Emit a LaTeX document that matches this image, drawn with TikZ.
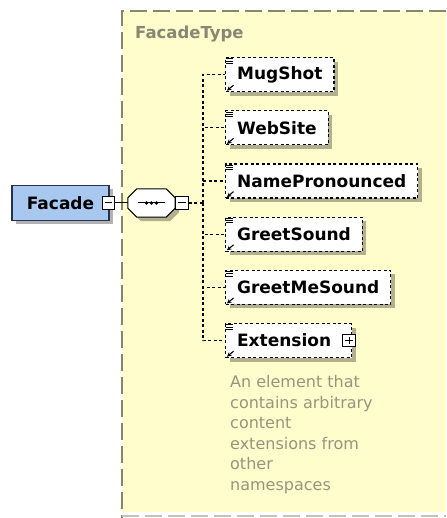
\documentclass[tikz,border=0pt]{standalone}
\usepackage{fontspec}
\setsansfont{DejaVu Sans}
\usepackage{xcolor}
\usepackage{tikz}
\usetikzlibrary{positioning}
\usetikzlibrary{shadows}
\usetikzlibrary{arrows.meta}

\definecolor{typebg}{RGB}{255,253,204}
\definecolor{typeline}{RGB}{135,135,112}
\definecolor{typetext}{RGB}{135,135,115}
\definecolor{desctext}{RGB}{150,150,128}
\definecolor{elemblue}{RGB}{168,200,240}
\definecolor{elemline}{RGB}{40,50,80}

\tikzset{
  boxfont/.style={font=\sffamily\bfseries\fontsize{17pt}{20pt}\selectfont},
  softshadow/.style={drop shadow={shadow xshift=4pt, shadow yshift=-4pt, fill=black, opacity=.3}},
  elem/.style={draw=elemline, line width=1.2pt, fill=elemblue, minimum width=97pt, minimum height=35pt, boxfont, softshadow},
  refbox/.style={draw, line width=1.2pt, dash pattern=on 3pt off 2.5pt, fill=white, inner xsep=11.5pt, minimum height=34pt, boxfont, softshadow},
  togglebox/.style={draw, fill=white, line width=1pt, minimum size=12.5pt, inner sep=0pt},
  conn/.style={line width=1.2pt, dash pattern=on 3pt off 2.5pt},
  typeborder/.style={draw=typeline, line width=1.2pt, dash pattern=on 17pt off 6pt},
}

\begin{document}
\begin{tikzpicture}[x=1pt, y=-1pt]
\useasboundingbox (0,0) rectangle (446,518);

% complex type area
\fill [typebg] (122,11) rectangle (446,512);
\draw [typeborder] (446,11) -- (122,11) -- (122,518);
\draw [typeborder, draw=typeline!50] (122,516) -- (446,516);
\node (typename) [anchor=base west, inner sep=0pt, text=typetext, font=\sffamily\bfseries\fontsize{16.5pt}{20pt}\selectfont] at (135,39) {FacadeType};

% element
\node (facade) [elem] at (60.5,203) {Facade};
\node (fminus) [togglebox] at (108.5,203) {};
\draw [line width=1pt] ([xshift=3pt]fminus.west) -- ([xshift=-3pt]fminus.east);

% sequence
\node (seq) [minimum width=47pt, minimum height=28pt, inner sep=0pt] at (151.5,203) {};
\draw [draw, fill=white, line width=1pt, softshadow] ([xshift=9pt]seq.north west) -- ([xshift=-9pt]seq.north east) -- ([yshift=-9pt]seq.north east) -- ([yshift=9pt]seq.south east) -- ([xshift=-9pt]seq.south east) -- ([xshift=9pt]seq.south west) -- ([yshift=9pt]seq.south west) -- ([yshift=-9pt]seq.north west) -- cycle;
\draw [line width=1pt] ([xshift=10pt]seq.west) -- ([xshift=-10pt]seq.east);
\foreach \dx in {-5,0,5} {
  \fill ([xshift=\dx pt]seq.center) circle (1.9pt);
}
\node (sminus) [togglebox] at (182,203) {};
\draw [line width=1pt] ([xshift=3pt]sminus.west) -- ([xshift=-3pt]sminus.east);

\draw [line width=1pt] (fminus) -- (seq);
\coordinate (trunk) at (203,203);
\draw [conn] (sminus) -- (trunk);

% children
\node (mugshot) [refbox, anchor=north west] at (225,57) {MugShot};
\node (website) [refbox, below right=18pt and 0pt of mugshot.south west] {WebSite};
\node (namepron) [refbox, below right=18pt and 0pt of website.south west] {NamePronounced};
\node (greetsound) [refbox, below right=18pt and 0pt of namepron.south west] {GreetSound};
\node (greetme) [refbox, below right=18pt and 0pt of greetsound.south west] {GreetMeSound};
\node (extension) [refbox, text width=103pt, align=left, below right=18pt and 0pt of greetme.south west] {Extension};
\node (extplus) [togglebox] at ([xshift=-3pt]extension.east) {};
\draw [line width=1pt] ([xshift=3pt]extplus.west) -- ([xshift=-3pt]extplus.east);
\draw [line width=1pt] ([yshift=-3pt]extplus.north) -- ([yshift=3pt]extplus.south);

\foreach \n in {mugshot,website,namepron,greetsound,greetme,extension} {
  \draw [conn] (trunk) |- (\n.west);
  % reference icons
  \foreach \dy in {1.8,4,6.2} {
    \draw [line width=.9pt] ([shift={(1,\dy)}]\n.north west) -- ++(7,0);
  }
  \draw [-{Stealth[length=4.5pt,width=4.5pt]}, line width=1.1pt] ([shift={(8.5,-7)}]\n.south west) -- ([shift={(2,-1.5)}]\n.south west);
}

\node (extdesc) [below right=17pt and 5pt of extension.south west, inner sep=0pt, align=left, text=desctext, font=\sffamily\fontsize{16pt}{20.5pt}\selectfont] {An element that\\contains arbitrary\\content\\extensions from\\other\\namespaces};
\end{tikzpicture}
\end{document}
